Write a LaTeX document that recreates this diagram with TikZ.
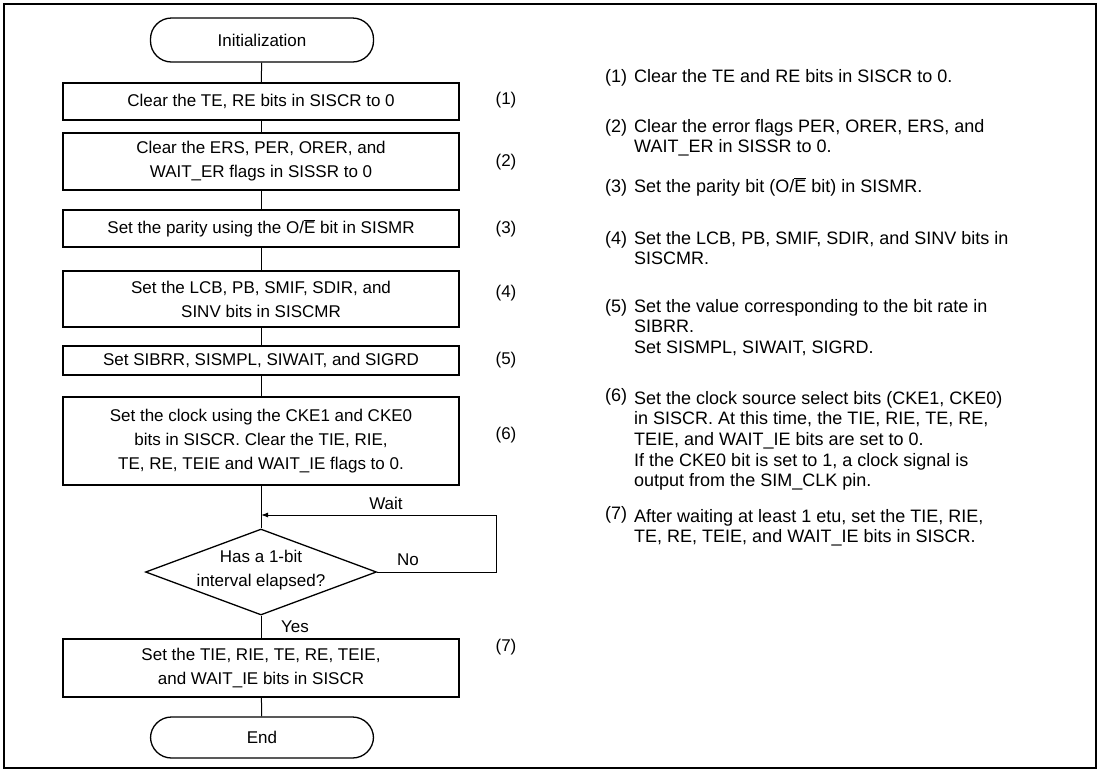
\documentclass[tikz,border=0pt]{standalone}
\usepackage{fontspec}
\setmainfont{Liberation Sans}
\usetikzlibrary{shapes.geometric,arrows.meta}
\newcommand{\oebar}{O/$\overline{\hbox{E}}$}
\begin{document}
\begin{tikzpicture}[x=1pt,y=-1pt,
  boxtext/.style={font=\fontsize{17}{24}\selectfont},
  stepbox/.style={draw,line width=1.3pt,minimum width=396pt,inner sep=0pt,align=center,boxtext},
  term/.style={draw,line width=1.3pt,minimum width=223pt,rounded corners=21pt,inner sep=0pt,boxtext},
  conn/.style={line width=1pt},
  lbl/.style={boxtext,inner sep=0pt},
  note/.style={anchor=base west,inner sep=0pt,font=\fontsize{18}{20.7}\selectfont},
]
\useasboundingbox (0,0) rectangle (1100,772);
\draw[line width=2pt] (4,4) rectangle (1096,768);

\node[term,minimum height=44pt] (init) at (262,40) {Initialization};
\node[stepbox,minimum height=37pt] (b1) at (261,101.5) {Clear the TE, RE bits in SISCR to 0};
\node[stepbox,minimum height=57pt] (b2) at (261,161.5) {Clear the ERS, PER, ORER, and\\WAIT\_ER flags in SISSR to 0};
\node[stepbox,minimum height=37pt] (b3) at (261,228.5) {Set the parity using the \oebar{} bit in SISMR};
\node[stepbox,minimum height=56pt] (b4) at (261,299) {Set the LCB, PB, SMIF, SDIR, and\\SINV bits in SISCMR};
\node[stepbox,minimum height=29pt] (b5) at (261,360.5) {Set SIBRR, SISMPL, SIWAIT, and SIGRD};
\node[stepbox,minimum height=88pt] (b6) at (261,441) {Set the clock using the CKE1 and CKE0\\bits in SISCR. Clear the TIE, RIE,\\TE, RE, TEIE and WAIT\_IE flags to 0.};
\node[diamond,draw,line width=1.3pt,minimum width=231pt,minimum height=86pt,inner sep=0pt] (dec) at (261,572) {};
\node[lbl,align=center] (dectext) at (261,570) {Has a 1-bit\\interval elapsed?};
\node[stepbox,minimum height=58pt] (b7) at (261,668) {Set the TIE, RIE, TE, RE, TEIE,\\and WAIT\_IE bits in SISCR};
\node[term,minimum height=41pt] (end) at (262,737.5) {End};

\coordinate (loopR) at (496,515);
\coordinate (join) at (261,515);

\draw[conn] (init) -- (b1);
\draw[conn] (b1) -- (b2);
\draw[conn] (b2) -- (b3);
\draw[conn] (b3) -- (b4);
\draw[conn] (b4) -- (b5);
\draw[conn] (b5) -- (b6);
\draw[conn] (b6) -- (dec);
\draw[conn] (dec) -- (b7);
\draw[conn] (b7) -- (end);
\draw[conn,-{Latex[length=7pt,width=5pt]}] (dec.east) -| (loopR) -- (join);

\node[lbl] (wait) at (386,503) {Wait};
\node[lbl] (no) at (408,560) {No};
\node[lbl] (yes) at (295,627) {Yes};

\node[lbl] (n1) at (506,100) {(1)};
\node[lbl] (n2) at (506,162) {(2)};
\node[lbl] (n3) at (506,229) {(3)};
\node[lbl] (n4) at (506,293) {(4)};
\node[lbl] (n5) at (506,360) {(5)};
\node[lbl] (n6) at (506,435) {(6)};
\node[lbl] (n7) at (506,647) {(7)};

\node[note] (r1l) at (605,82) {(1)};
\node[note] (r1) at (634,82) {Clear the TE and RE bits in SISCR to 0.};
\node[note] (r2l) at (605,132) {(2)};
\node[note] (r2) at (634,132) {\parbox[t]{450pt}{Clear the error flags PER, ORER, ERS, and\\WAIT\_ER in SISSR to 0.}};
\node[note] (r3l) at (605,192) {(3)};
\node[note] (r3) at (634,192) {Set the parity bit (\oebar{} bit) in SISMR.};
\node[note] (r4l) at (605,244) {(4)};
\node[note] (r4) at (634,244) {\parbox[t]{450pt}{Set the LCB, PB, SMIF, SDIR, and SINV bits in\\SISCMR.}};
\node[note] (r5l) at (605,312) {(5)};
\node[note] (r5) at (634,312) {\parbox[t]{450pt}{Set the value corresponding to the bit rate in\\SIBRR.\\Set SISMPL, SIWAIT, SIGRD.}};
\node[note] (r6l) at (605,401) {(6)};
\node[note] (r6) at (634,404) {\parbox[t]{450pt}{Set the clock source select bits (CKE1, CKE0)\\in SISCR. At this time, the TIE, RIE, TE, RE,\\TEIE, and WAIT\_IE bits are set to 0.\\If the CKE0 bit is set to 1, a clock signal is\\output from the SIM\_CLK pin.}};
\node[note] (r7l) at (605,519) {(7)};
\node[note] (r7) at (634,522) {\parbox[t]{450pt}{After waiting at least 1 etu, set the TIE, RIE,\\TE, RE, TEIE, and WAIT\_IE bits in SISCR.}};
\end{tikzpicture}
\end{document}
